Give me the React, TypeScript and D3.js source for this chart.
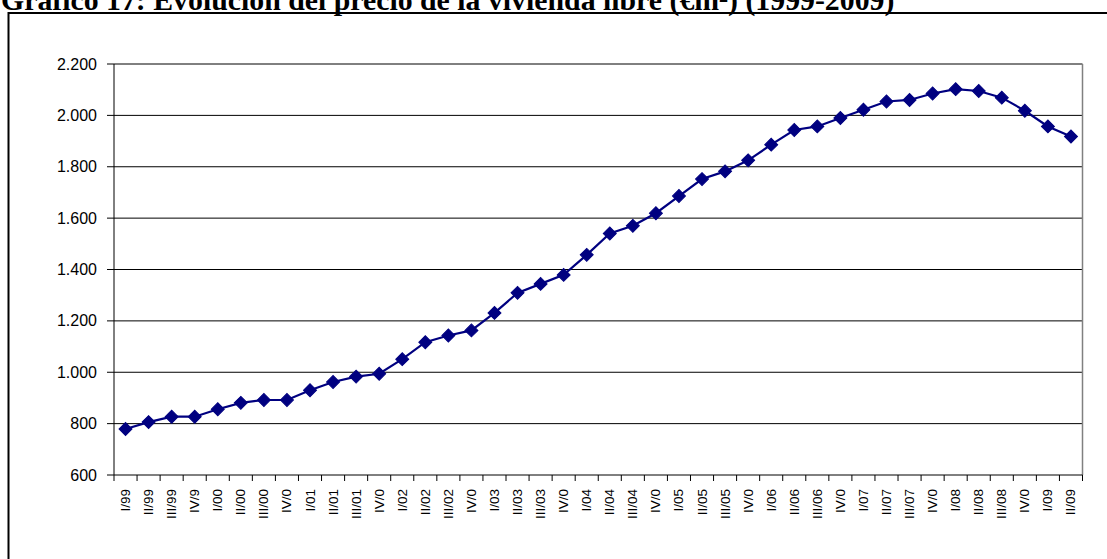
import React from "react";
import * as d3 from "d3";

const title = "Gráfico 17: Evolución del precio de la vivienda libre (€m²) (1999-2009)";

const categories = [
  "I/99", "II/99", "III/99", "IV/9",
  "I/00", "II/00", "III/00", "IV/0",
  "I/01", "II/01", "III/01", "IV/0",
  "I/02", "II/02", "III/02", "IV/0",
  "I/03", "II/03", "III/03", "IV/0",
  "I/04", "II/04", "III/04", "IV/0",
  "I/05", "II/05", "III/05", "IV/0",
  "I/06", "II/06", "III/06", "IV/0",
  "I/07", "II/07", "III/07", "IV/0",
  "I/08", "II/08", "III/08", "IV/0",
  "I/09", "II/09",
];

const prices = [
  779, 806, 827, 827,
  856, 881, 892, 892,
  930, 962, 983, 994,
  1051, 1117, 1143, 1163,
  1231, 1309, 1344, 1379,
  1457, 1540, 1570, 1619,
  1686, 1752, 1782, 1825,
  1886, 1943, 1957, 1990,
  2022, 2054, 2060, 2085,
  2102, 2095, 2069, 2018,
  1957, 1918,
];

const yTicks = [600, 800, 1000, 1200, 1400, 1600, 1800, 2000, 2200];

const fmt = (v: number) => d3.format(",")(v).replace(/,/g, ".");

export default function App() {
  const W = 1107;
  const H = 559;
  const left = 114;
  const right = 1082.5;
  const top = 64;
  const bottom = 475;

  const idx = categories.map((_, i) => i);
  const x = d3.scaleBand<number>().domain(idx).range([left, right]).padding(0);
  const y = d3.scaleLinear().domain([600, 2200]).range([bottom, top]);

  const cx = (i: number) => (x(i) as number) + x.bandwidth() / 2;

  const line = d3
    .line<number>()
    .x((_, i) => cx(i))
    .y((d) => y(d));

  const diamond = d3.symbol().type(d3.symbolSquare).size(84)() as string;

  return (
    <svg
      width={W}
      height={H}
      style={{ position: "absolute", left: 0, top: 0, background: "#fff" }}
    >
      <rect x={0} y={0} width={W} height={H} fill="#fff" />
      <text
        x={1}
        y={9.5}
        fontFamily="'Liberation Serif', 'Times New Roman', serif"
        fontWeight="bold"
        fontSize={29.8}
        fill="#000"
      >
        {title}
      </text>
      {/* outer frame */}
      <rect x={8.5} y={13} width={W + 20} height={H + 20} fill="none" stroke="#000" strokeWidth={2} />

      {/* gridlines */}
      {yTicks.slice(1).map((t) => (
        <line key={"g" + t} x1={left} x2={right} y1={y(t)} y2={y(t)} stroke="#000" strokeWidth={1} />
      ))}
      {/* right plot border */}
      <line x1={right} x2={right} y1={top} y2={bottom} stroke="#808080" strokeWidth={1.5} />

      {/* y axis */}
      <line x1={left} x2={left} y1={top} y2={bottom} stroke="#000" strokeWidth={1} />
      {yTicks.map((t) => (
        <g key={"y" + t}>
          <line x1={left - 7} x2={left} y1={y(t)} y2={y(t)} stroke="#000" strokeWidth={1} />
          <text
            x={left - 17}
            y={y(t)}
            dy="0.35em"
            textAnchor="end"
            fontFamily="'Liberation Sans', Arial, sans-serif"
            fontSize={16}
            fill="#000"
          >
            {fmt(t)}
          </text>
        </g>
      ))}

      {/* x axis */}
      <line x1={left} x2={right} y1={bottom} y2={bottom} stroke="#000" strokeWidth={1} />
      {idx.map((i) => (
        <line
          key={"xt" + i}
          x1={x(i) as number}
          x2={x(i) as number}
          y1={bottom}
          y2={bottom + 6}
          stroke="#000"
          strokeWidth={1}
        />
      ))}
      <line x1={right} x2={right} y1={bottom} y2={bottom + 6} stroke="#000" strokeWidth={1} />
      {categories.map((c, i) => (
        <text
          key={"xl" + i}
          transform={`translate(${cx(i) + 4.5},${489}) rotate(-90)`}
          textAnchor="end"
          fontFamily="'Liberation Sans', Arial, sans-serif"
          fontSize={13.5}
          fill="#000"
        >
          {c}
        </text>
      ))}

      {/* series */}
      <path d={line(prices) as string} fill="none" stroke="#000080" strokeWidth={2.2} />
      {prices.map((v, i) => (
        <path
          key={"m" + i}
          d={diamond}
          transform={`translate(${cx(i)},${y(v)}) rotate(45)`}
          fill="#000080"
          stroke="#000080"
          strokeWidth={1}
        />
      ))}
    </svg>
  );
}
